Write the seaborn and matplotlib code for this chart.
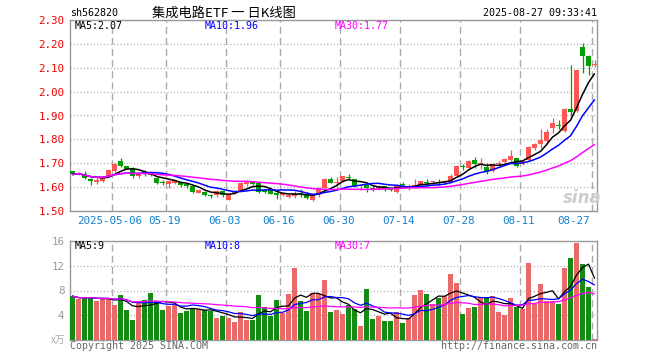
import numpy as np
import pandas as pd
import matplotlib
matplotlib.use("Agg")
import matplotlib.pyplot as plt
import seaborn as sns

# trading days shown (Apr 22 - Aug 27 2025, exchange holidays removed)
holidays = ["2025-05-01", "2025-05-02", "2025-05-05", "2025-06-02"]
dates = pd.bdate_range("2025-04-22", "2025-08-27")
dates = dates[~dates.isin(pd.to_datetime(holidays))]

tick_dates = ["2025-05-06", "2025-05-19", "2025-06-03", "2025-06-16", "2025-06-30",
              "2025-07-14", "2025-07-28", "2025-08-11", "2025-08-27"]
tick_labels = ["2025-05-06", "05-19", "06-03", "06-16", "06-30",
               "07-14", "07-28", "08-11", "08-27"]

opens = [1.667, 1.655, 1.656, 1.635, 1.621, 1.624, 1.646, 1.667, 1.708, 1.688,
         1.679, 1.645, 1.662, 1.660, 1.640, 1.623, 1.615, 1.618, 1.620, 1.612,
         1.604, 1.577, 1.580, 1.567, 1.565, 1.585, 1.547, 1.575, 1.583, 1.615,
         1.622, 1.618, 1.588, 1.590, 1.575, 1.566, 1.558, 1.561, 1.575, 1.572,
         1.545, 1.565, 1.597, 1.633, 1.619, 1.625, 1.640, 1.632, 1.605, 1.607,
         1.598, 1.594, 1.603, 1.594, 1.580, 1.612, 1.598, 1.598, 1.608, 1.620,
         1.620, 1.622, 1.617, 1.620, 1.645, 1.688, 1.682, 1.712, 1.695, 1.686,
         1.668, 1.698, 1.705, 1.714, 1.720, 1.698, 1.714, 1.763, 1.780, 1.793,
         1.849, 1.861, 1.835, 1.929, 1.918, 2.186, 2.151, 2.113]
highs = [1.668, 1.665, 1.667, 1.640, 1.637, 1.645, 1.675, 1.700, 1.722, 1.690,
         1.684, 1.665, 1.670, 1.665, 1.643, 1.628, 1.630, 1.630, 1.625, 1.614,
         1.606, 1.590, 1.584, 1.570, 1.590, 1.588, 1.575, 1.590, 1.620, 1.628,
         1.625, 1.620, 1.592, 1.592, 1.578, 1.580, 1.570, 1.582, 1.592, 1.578,
         1.562, 1.600, 1.637, 1.644, 1.642, 1.648, 1.653, 1.635, 1.612, 1.614,
         1.603, 1.610, 1.606, 1.598, 1.612, 1.620, 1.614, 1.633, 1.627, 1.636,
         1.627, 1.632, 1.630, 1.653, 1.692, 1.696, 1.713, 1.726, 1.724, 1.703,
         1.700, 1.710, 1.720, 1.754, 1.722, 1.712, 1.772, 1.783, 1.844, 1.842,
         1.888, 1.883, 1.932, 2.112, 2.092, 2.203, 2.154, 2.133]
lows = [1.650, 1.650, 1.635, 1.610, 1.611, 1.620, 1.643, 1.665, 1.685, 1.675,
        1.640, 1.638, 1.645, 1.645, 1.615, 1.610, 1.596, 1.615, 1.600, 1.598,
        1.575, 1.575, 1.562, 1.555, 1.560, 1.558, 1.545, 1.572, 1.580, 1.605,
        1.610, 1.575, 1.575, 1.570, 1.552, 1.562, 1.555, 1.555, 1.558, 1.551,
        1.543, 1.560, 1.595, 1.617, 1.586, 1.620, 1.628, 1.600, 1.590, 1.580,
        1.585, 1.590, 1.585, 1.585, 1.575, 1.596, 1.586, 1.595, 1.606, 1.605,
        1.612, 1.608, 1.612, 1.618, 1.642, 1.672, 1.678, 1.680, 1.675, 1.654,
        1.665, 1.690, 1.700, 1.703, 1.685, 1.694, 1.708, 1.757, 1.762, 1.779,
        1.828, 1.845, 1.830, 1.897, 1.915, 2.080, 2.070, 2.105]
closes = [1.653, 1.660, 1.638, 1.626, 1.629, 1.641, 1.672, 1.697, 1.690, 1.678,
          1.647, 1.655, 1.655, 1.650, 1.618, 1.618, 1.627, 1.628, 1.608, 1.603,
          1.580, 1.586, 1.565, 1.564, 1.585, 1.565, 1.570, 1.584, 1.617, 1.624,
          1.615, 1.580, 1.578, 1.572, 1.568, 1.575, 1.565, 1.575, 1.570, 1.555,
          1.561, 1.597, 1.635, 1.618, 1.622, 1.646, 1.637, 1.603, 1.608, 1.598,
          1.588, 1.605, 1.594, 1.590, 1.608, 1.609, 1.601, 1.609, 1.625, 1.618,
          1.622, 1.619, 1.626, 1.647, 1.689, 1.686, 1.711, 1.697, 1.697, 1.665,
          1.695, 1.701, 1.717, 1.730, 1.690, 1.710, 1.770, 1.781, 1.797, 1.830,
          1.869, 1.858, 1.929, 1.914, 2.089, 2.151, 2.106, 2.115]
# volume, 10k lots
volumes = [7.1, 6.6, 6.8, 6.9, 6.3, 6.8, 6.6, 5.7, 7.3, 4.8,
           3.2, 6.0, 6.5, 7.6, 6.3, 4.8, 5.5, 5.7, 4.4, 4.7,
           5.2, 5.0, 4.8, 4.7, 3.6, 3.9, 3.6, 2.9, 4.5, 3.2,
           3.2, 7.3, 5.3, 3.8, 6.5, 4.4, 7.5, 11.6, 6.3, 4.7,
           7.6, 7.5, 9.7, 4.5, 4.8, 4.2, 5.7, 5.0, 2.3, 8.2,
           3.4, 3.9, 3.1, 3.1, 4.5, 2.7, 3.6, 7.3, 8.1, 7.5,
           5.8, 6.8, 7.1, 10.7, 9.2, 4.2, 5.2, 5.3, 6.9, 6.9,
           7.1, 4.5, 4.0, 6.8, 5.3, 5.0, 12.4, 5.8, 9.0, 6.3,
           6.3, 5.8, 11.6, 13.2, 15.6, 12.3, 8.6, 0.2]

ma_price_text = ["MA5:2.07", "MA10:1.96", "MA30:1.77"]
ma_vol_text = ["MA5:9", "MA10:8", "MA30:7"]

RED = "#ff5555"
GREEN = "#00a000"
MA_COLORS = ["#000000", "#0000ff", "#ff00ff"]
GRID = "#aaaaaa"
MONO = "DejaVu Sans Mono"
FS = 7.2

df = pd.DataFrame({"date": dates, "open": opens, "high": highs, "low": lows,
                   "close": closes, "vol": volumes})
df["idx"] = np.arange(len(df))
df["dir"] = np.where(df["close"] >= df["open"], "up", "down")
for n in (5, 10, 30):
    df[f"ma{n}"] = df["close"].rolling(n, min_periods=1).mean()
    df[f"vma{n}"] = df["vol"].rolling(n, min_periods=1).mean()

sns.set_style("white")
plt.rcParams["font.family"] = [MONO, "Noto Sans CJK SC"]
plt.rcParams["lines.scale_dashes"] = False

W, H = 660, 360
fig = plt.figure(figsize=(W / 100, H / 100), dpi=100)
x0, x1 = 70, 597
ax1 = fig.add_axes([x0 / W, 1 - 211 / H, (x1 - x0) / W, 191 / H])
ax2 = fig.add_axes([x0 / W, 1 - 340 / H, (x1 - x0) / W, 99 / H])

xl = (-2.5 / 6, -2.5 / 6 + (x1 - x0) / 6)
grid_pos = [int(df.index[df["date"] == pd.Timestamp(d)][0]) - 0.37 for d in tick_dates]

# candles
colors = df["dir"].map({"up": RED, "down": GREEN})
ax1.vlines(df["idx"], df["low"], df["high"], colors=colors, lw=0.9, zorder=3)
body = (df["close"] - df["open"]).abs().clip(lower=0.004)
ax1.bar(df["idx"], body, bottom=df[["open", "close"]].min(axis=1), width=0.83,
        color=colors, linewidth=0, zorder=3)
for n, c in zip((5, 10, 30), MA_COLORS):
    sns.lineplot(x=df["idx"].values, y=df[f"ma{n}"].values, ax=ax1, color=c, lw=1.1,
                 zorder=4)

# volume
sns.barplot(data=df, x="idx", y="vol", hue="dir", palette={"up": RED, "down": GREEN},
            dodge=False, width=0.83, linewidth=0, errorbar=None, legend=False, ax=ax2,
            zorder=3)
for n, c in zip((5, 10, 30), MA_COLORS):
    sns.lineplot(x=df["idx"].values, y=df[f"vma{n}"].values, ax=ax2, color=c, lw=0.9,
                 zorder=4)

for ax in (ax1, ax2):
    ax.set_xlim(*xl)
    ax.set_xticks(grid_pos)
    ax.set_xticklabels([])
    ax.set_xlabel("")
    ax.set_ylabel("")
    ax.grid(axis="x", color=GRID, lw=1.0, ls=(0, (5, 3)))
    ax.grid(axis="y", color=GRID, lw=0.9, ls=(0, (0.8, 1.6)))
    ax.set_axisbelow(True)
    ax.tick_params(length=0, pad=4, labelsize=FS)
    for s in ax.spines.values():
        s.set_color("#999999")
        s.set_linewidth(1.0)

ax1.set_ylim(1.50, 2.30)
pt = np.round(np.arange(1.5, 2.301, 0.1), 2)
ax1.set_yticks(pt)
ax1.set_yticklabels([f"{v:.2f}" for v in pt], color="#ee0000", fontsize=FS + 0.6)

ax2.set_ylim(0, 16)
ax2.set_yticks([4, 8, 12, 16])
ax2.set_yticklabels(["4", "8", "12", "16"], color="#999999", fontsize=FS + 0.6)

# date labels
for i, (p, lab) in enumerate(zip(grid_pos, tick_labels)):
    last = i == len(tick_labels) - 1
    ax1.text(p - (0.4 if last else 0.35), 1.50 - 0.042, lab, ha="right" if last else "center",
             va="center", color="#1080d0", fontsize=FS + 0.6)


def ftext(x, y, s, **kw):
    kw.setdefault("fontsize", FS)
    fig.text(x / W, 1 - y / H, s, va="center", **kw)


ftext(70, 13, "sh562820", color="black")
ftext(224, 13, "集成电路ETF 一 日K线图", ha="center", color="black",
      family=["Noto Sans CJK SC", MONO], fontsize=9.5)
ftext(597, 13, "2025-08-27 09:33:41", ha="right", color="black")
for xx, s, c in zip((75, 205, 335), ma_price_text, MA_COLORS):
    ftext(xx, 26, s, color=c)
for xx, s, c in zip((75, 205, 335), ma_vol_text, MA_COLORS):
    ftext(xx, 246, s, color=c)
ftext(70, 346, "Copyright 2025 SINA.COM", color="#666666")
ftext(597, 346, "http://finance.sina.com.cn", ha="right", color="#666666")
ftext(65, 340, "x万", ha="right", color="#aaaaaa", family=["Noto Sans CJK SC", MONO],
      fontsize=7)
ftext(582, 198, "sina", ha="center", color="#cccccc", fontsize=12, weight="bold",
      style="italic", family=["DejaVu Sans"])

fig.savefig("out.png", dpi=100)
